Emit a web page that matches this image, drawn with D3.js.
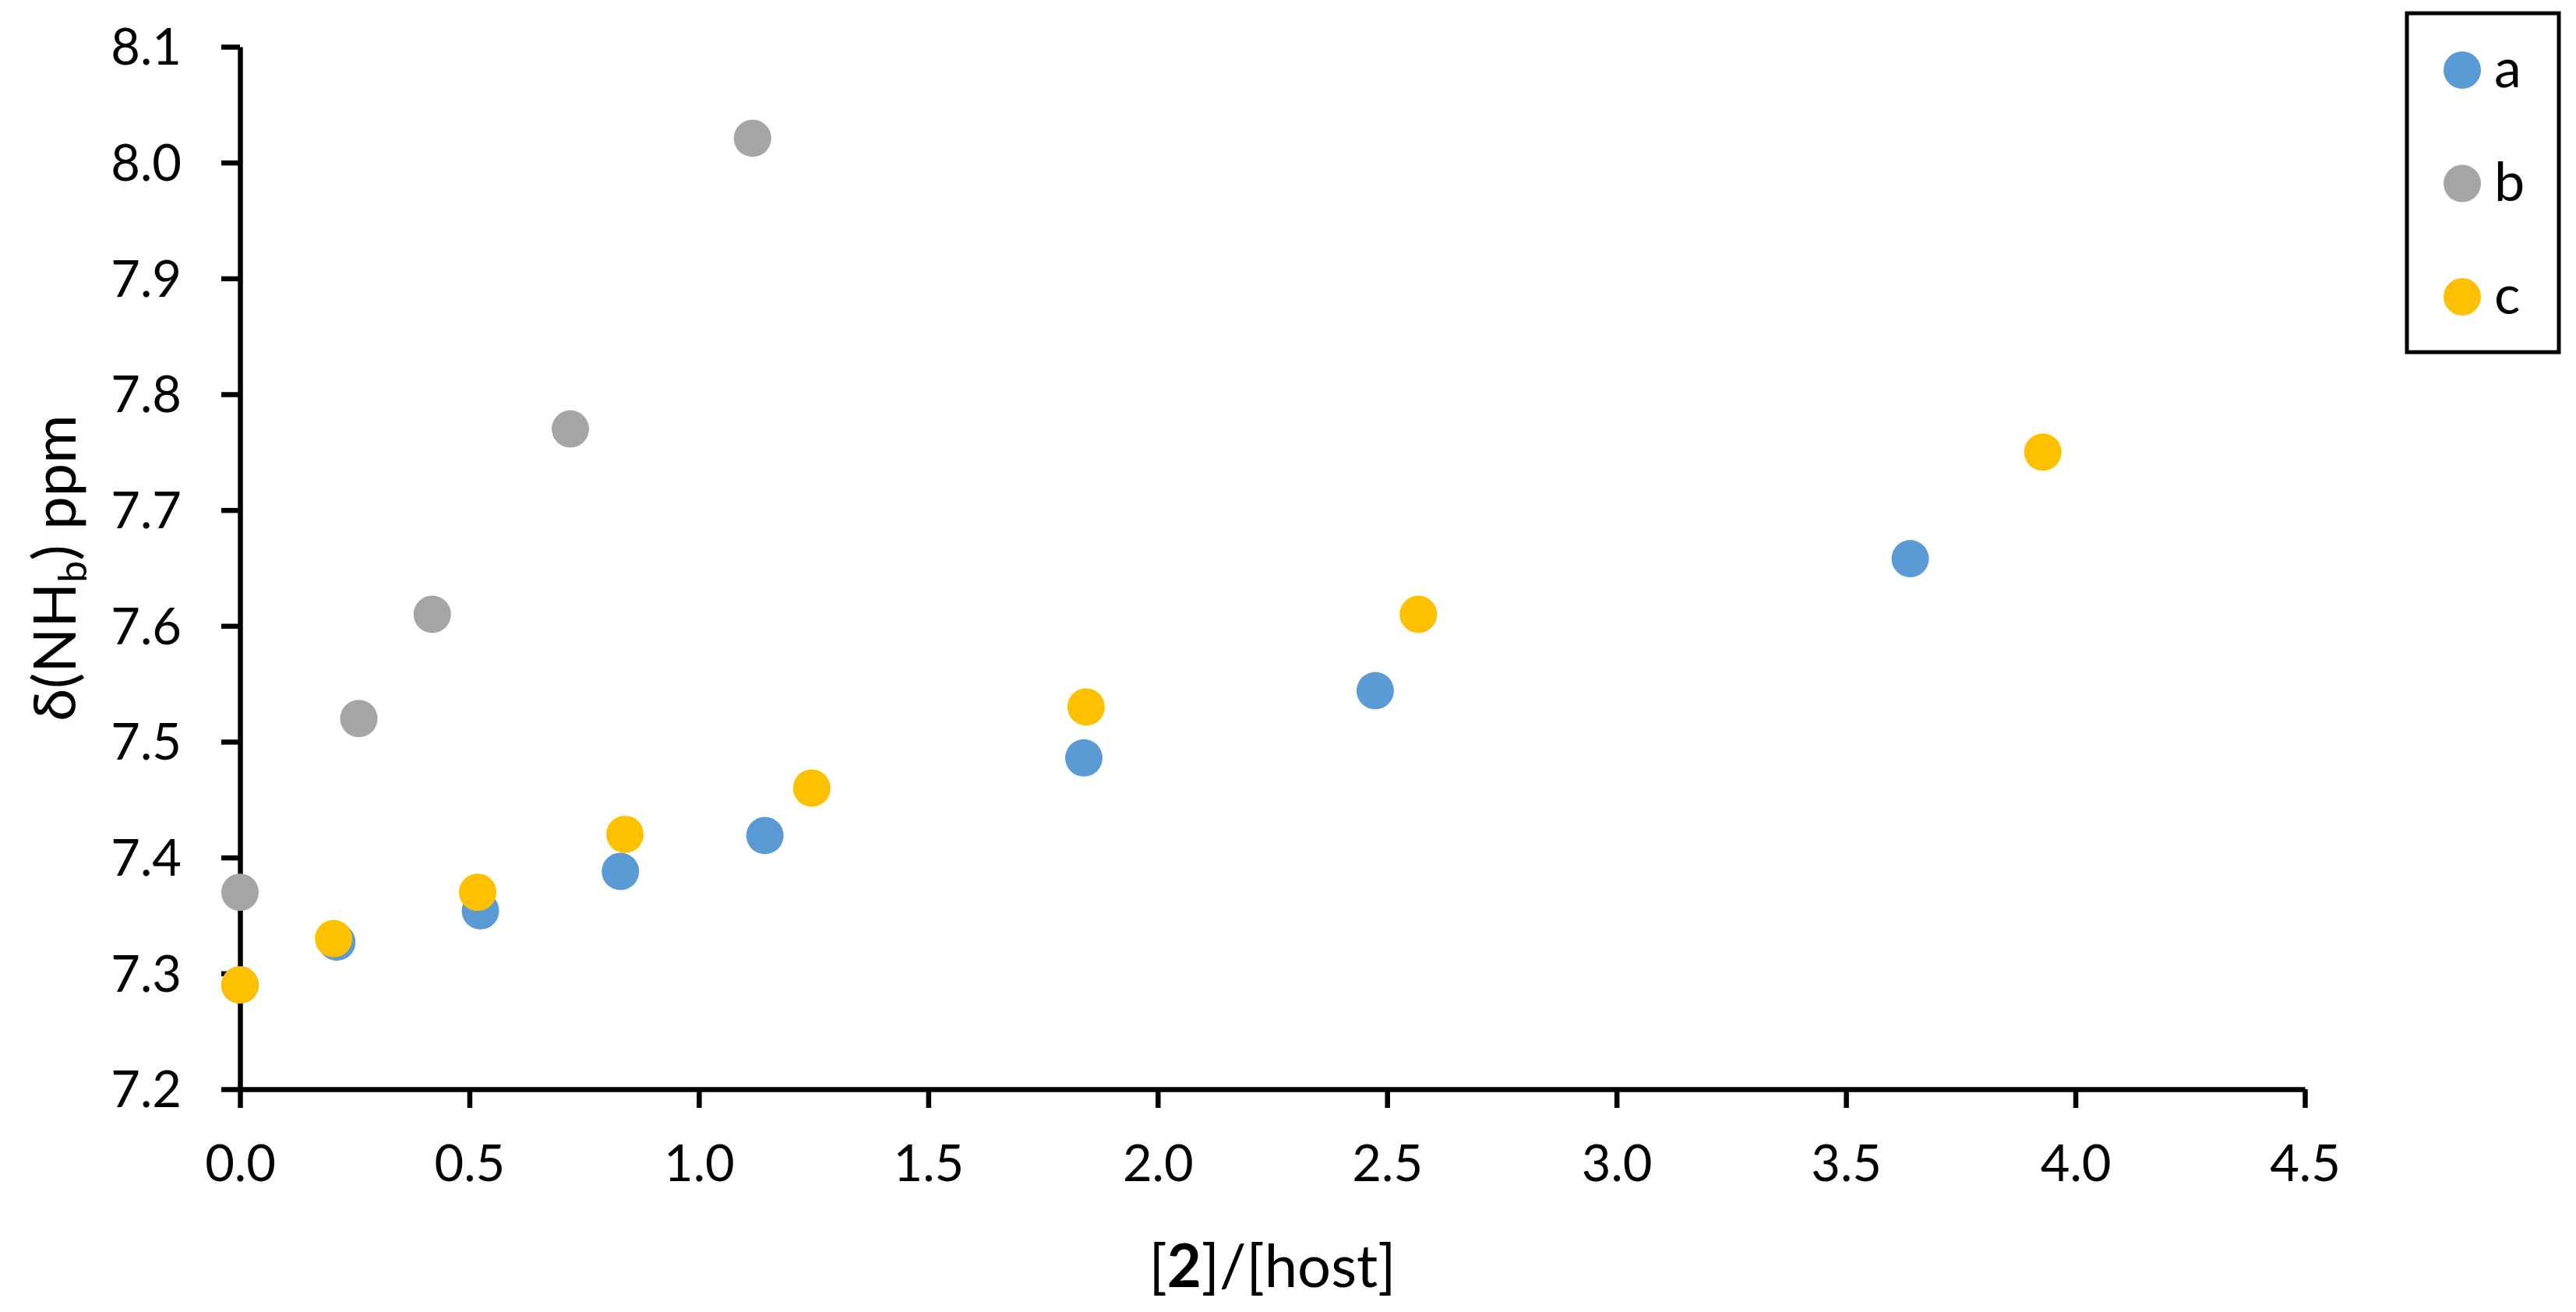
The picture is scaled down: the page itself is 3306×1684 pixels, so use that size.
<!DOCTYPE html>
<html><head><meta charset="utf-8">
<script src="https://cdn.jsdelivr.net/npm/d3@7"></script>
<style>html,body{margin:0;padding:0;background:#fff;} svg{display:block;}</style>
</head><body>
<script>
// Data
const seriesNames = ["a", "b", "c"];
const seriesColors = ["#5B9BD5", "#A5A5A5", "#FFC000"];
const aX = [0, 0.211, 0.524, 0.829, 1.144, 1.839, 2.474, 3.640];
const aY = [7.290, 7.327, 7.354, 7.388, 7.419, 7.486, 7.544, 7.658];
const bX = [0, 0.259, 0.419, 0.720, 1.117];
const bY = [7.370, 7.520, 7.610, 7.770, 8.021];
const cX = [0, 0.204, 0.518, 0.839, 1.246, 1.844, 2.568, 3.929];
const cY = [7.290, 7.330, 7.370, 7.420, 7.460, 7.530, 7.610, 7.750];
const xTicks = [0, 0.5, 1.0, 1.5, 2.0, 2.5, 3.0, 3.5, 4.0, 4.5];
const yTicks = [7.2, 7.3, 7.4, 7.5, 7.6, 7.7, 7.8, 7.9, 8.0, 8.1];

const W = 3306, H = 1684;
const FONT = "Lato, 'Open Sans', sans-serif";
const svg = d3.select("body").append("svg").attr("width", W).attr("height", H)
  .style("font-family", FONT);

const x = d3.scaleLinear().domain([0, 4.5]).range([308, 2958]);
const y = d3.scaleLinear().domain([7.2, 8.1]).range([1398, 60]);

const series = [
  {name: seriesNames[0], color: seriesColors[0], pts: aX.map((v, i) => [v, aY[i]])},
  {name: seriesNames[1], color: seriesColors[1], pts: bX.map((v, i) => [v, bY[i]])},
  {name: seriesNames[2], color: seriesColors[2], pts: cX.map((v, i) => [v, cY[i]])}
];

// Axes
const xAxis = d3.axisBottom(x).tickValues(xTicks).tickSizeOuter(0).tickSizeInner(24).tickPadding(48)
  .tickFormat(d3.format(".1f"));
const yAxis = d3.axisLeft(y).tickValues(yTicks).tickSizeOuter(0).tickSizeInner(24).tickPadding(52)
  .tickFormat(d3.format(".1f"));

const gx = svg.append("g").attr("transform", `translate(0,${y(7.2)})`).call(xAxis);
const gy = svg.append("g").attr("transform", `translate(${x(0)},0)`).call(yAxis);
[gx, gy].forEach(g => {
  g.select(".domain").attr("stroke", "#000").attr("stroke-width", 6.5);
  g.selectAll(".tick line").attr("stroke", "#000").attr("stroke-width", 6.5);
  g.selectAll(".tick text").attr("fill", "#000").style("font-size", "65px").style("font-family", FONT);
});
gx.selectAll(".tick text").attr("dy", "0.71em").attr("y", 72);
gy.selectAll(".tick text").attr("x", -75).attr("dy", "0.35em");

// Points
series.forEach(s => {
  svg.append("g").selectAll("circle").data(s.pts).join("circle")
    .attr("cx", d => x(d[0])).attr("cy", d => y(d[1])).attr("r", 24)
    .attr("fill", s.color);
});

// Axis titles
const xt = svg.append("text").attr("x", (x(0) + x(4.5)) / 2).attr("y", 1652)
  .attr("text-anchor", "middle").style("font-size", "76px").attr("fill", "#000");
xt.append("tspan").text("[");
xt.append("tspan").attr("font-weight", "bold").text("2");
xt.append("tspan").text("]/[host]");

const yt = svg.append("text").attr("transform", `translate(97,${(y(7.2) + y(8.1)) / 2}) rotate(-90)`)
  .attr("text-anchor", "middle").style("font-size", "76px").attr("fill", "#000");
yt.append("tspan").text("δ(NH");
yt.append("tspan").attr("dy", 14).style("font-size", "50px").text("b");
yt.append("tspan").attr("dy", -14).text(") ppm");

// Legend
const lg = svg.append("g");
lg.append("rect").attr("x", 3089).attr("y", 17).attr("width", 195).attr("height", 435)
  .attr("fill", "#fff").attr("stroke", "#000").attr("stroke-width", 5);
series.forEach((s, i) => {
  const cy = 90 + i * 145.5;
  lg.append("circle").attr("cx", 3160).attr("cy", cy).attr("r", 24).attr("fill", s.color);
  lg.append("text").attr("x", 3201).attr("y", cy + 22).style("font-size", "70px")
    .attr("fill", "#000").text(s.name);
});
</script>
</body></html>
